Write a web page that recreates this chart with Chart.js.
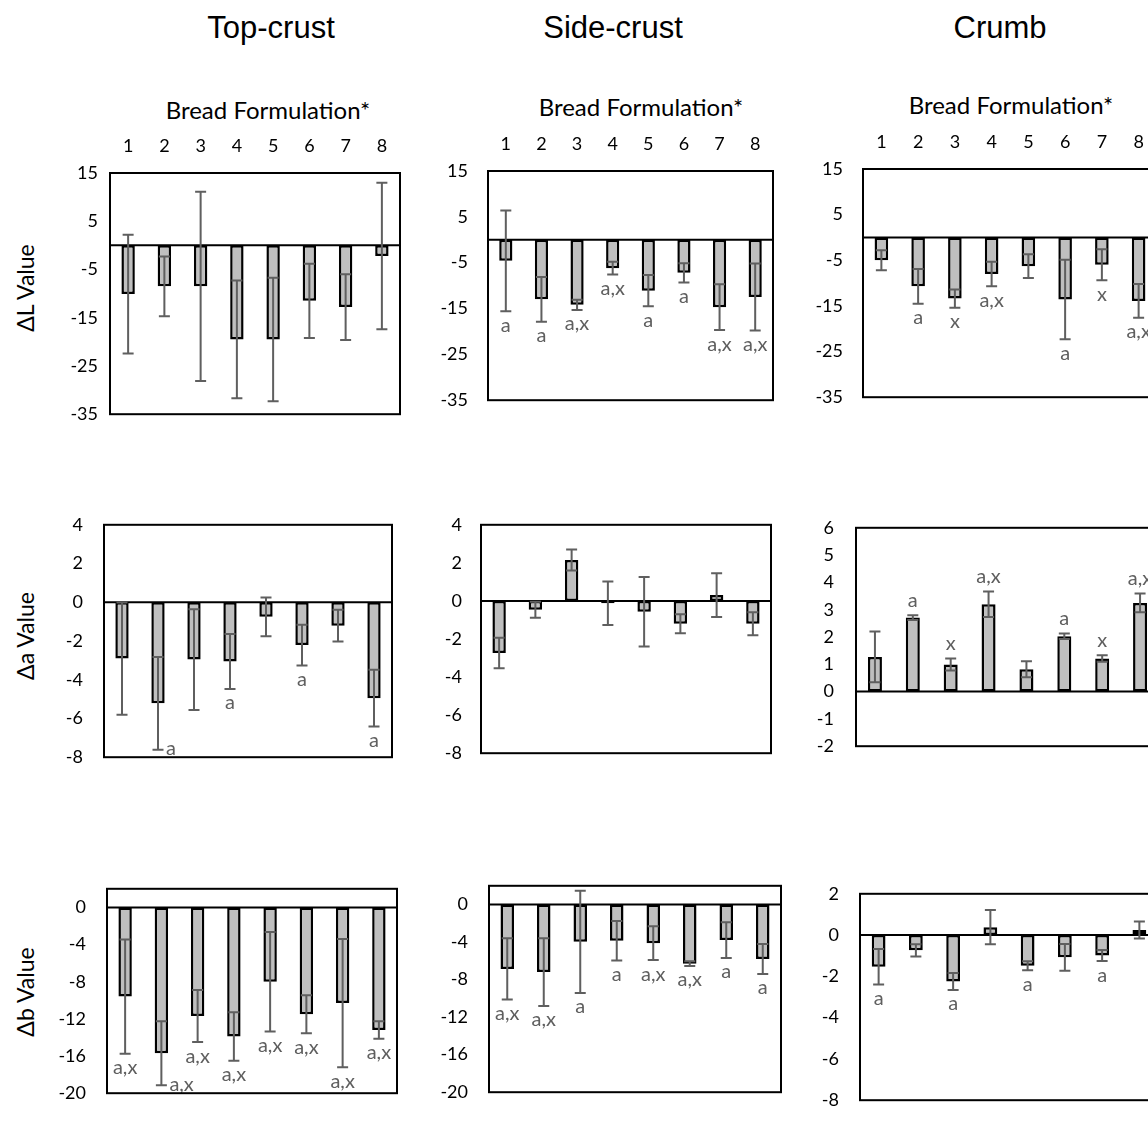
<!DOCTYPE html>
<html>
<head>
<meta charset="utf-8">
<script src="https://cdn.jsdelivr.net/npm/chart.js@4.4.1/dist/chart.umd.min.js"></script>
<style>
  html, body { margin: 0; padding: 0; width: 1148px; height: 1125px; overflow: hidden; background: #fff; }
  .txt { position: absolute; white-space: nowrap; transform: translate(-50%, -50%); color: #000; line-height: 1; }
  .col { font-family: "Liberation Sans", Arial, sans-serif; font-size: 31px; }
  .bf { font-family: Lato, "Open Sans", sans-serif; font-size: 24px; }
  .ytl { font-family: Lato, "Open Sans", sans-serif; font-size: 23px; transform: translate(-50%, -50%) rotate(-90deg); }
</style>
</head>
<body>
<div class="txt col" style="left:271px;top:27px">Top-crust</div>
<div class="txt col" style="left:613px;top:27px">Side-crust</div>
<div class="txt col" style="left:1000px;top:27px">Crumb</div>
<div class="txt bf" style="left:268px;top:110px">Bread Formulation*</div>
<div class="txt bf" style="left:641px;top:107px">Bread Formulation*</div>
<div class="txt bf" style="left:1011px;top:105px">Bread Formulation*</div>
<div class="txt ytl" style="left:25px;top:288px">ΔL Value</div>
<div class="txt ytl" style="left:25px;top:636px">Δa Value</div>
<div class="txt ytl" style="left:25px;top:992px">Δb Value</div>

<script>
const categories = ['1', '2', '3', '4', '5', '6', '7', '8'];

// ΔL
const topL = [-10.1, -8.5, -8.5, -19.5, -19.5, -11.5, -12.8, -2.2];
const topLsd = [12.3, 6.2, 19.6, 12.2, 12.8, 7.7, 6.8, 15.2];
const topLlab = ['', '', '', '', '', '', '', ''];
const sideL = [-4.6, -13.0, -14.2, -6.2, -11.1, -7.2, -14.7, -12.5];
const sideLsd = [11.0, 4.9, 1.1, 1.4, 3.4, 2.1, 5.0, 7.3];
const sideLlab = ['a', 'a', 'a,x', 'a,x', 'a', 'a', 'a,x', 'a,x'];
const crumbL = [-5.0, -10.7, -13.4, -8.0, -6.3, -13.6, -6.0, -13.9];
const crumbLsd = [2.2, 3.8, 2.0, 2.7, 2.6, 8.7, 3.4, 3.7];
const crumbLlab = ['', 'a', 'x', 'a,x', '', 'a', 'x', 'a,x'];

// Δa
const topA = [-2.91, -5.22, -2.96, -3.06, -0.75, -2.21, -1.21, -4.95];
const topAsd = [2.9, 2.4, 2.6, 1.42, 1.0, 1.05, 0.82, 1.47];
const topAlab = ['', 'a', '', 'a', '', 'a', '', 'a'];
const sideA = [-2.74, -0.46, 2.15, -0.12, -0.57, -1.2, 0.31, -1.2];
const sideAsd = [0.8, 0.42, 0.55, 1.14, 1.83, 0.5, 1.15, 0.6];
const sideAlab = ['', '', '', '', '', '', '', ''];
const crumbA = [1.27, 2.71, 0.99, 3.2, 0.82, 2.03, 1.21, 3.25];
const crumbAsd = [0.93, 0.09, 0.22, 0.47, 0.29, 0.1, 0.12, 0.34];
const crumbAlab = ['', 'a', 'x', 'a,x', '', 'a', 'x', 'a,x'];

// Δb
const topB = [-9.6, -15.7, -11.7, -13.9, -8.0, -11.5, -10.3, -13.2];
const topBsd = [6.15, 3.45, 2.8, 2.6, 5.35, 2.05, 6.9, 0.95];
const topBlab = ['a,x', 'a,x', 'a,x', 'a,x', 'a,x', 'a,x', 'a,x', 'a,x'];
const sideB = [-6.86, -7.2, -3.97, -3.85, -4.12, -6.3, -3.79, -5.8];
const sideBsd = [3.27, 3.6, 5.45, 2.1, 1.8, 0.25, 1.9, 1.6];
const sideBlab = ['a,x', 'a,x', 'a', 'a', 'a,x', 'a,x', 'a', 'a'];
const crumbB = [-1.53, -0.74, -2.25, 0.38, -1.49, -1.08, -0.99, 0.25];
const crumbBsd = [0.86, 0.3, 0.41, 0.83, 0.22, 0.65, 0.27, 0.41];
const crumbBlab = ['a', '', 'a', '', 'a', '', 'a', ''];

// tick labels
const lTicks = [15, 5, -5, -15, -25, -35];
const aTicks = [4, 2, 0, -2, -4, -6, -8];
const aTicksCrumb = [6, 5, 4, 3, 2, 1, 0, -1, -2];
const bTicks = [0, -4, -8, -12, -16, -20];
const bTicksCrumb = [2, 0, -2, -4, -6, -8];

// panel boxes: [left, top, right, bottom] of the framed plot area
const panels = [
  { vals: topL,   sd: topLsd,   labs: topLlab,   ticks: lTicks,      min: -35, max: 15, box: [110, 173, 400, 423], pad: 12, cats: true },
  { vals: sideL,  sd: sideLsd,  labs: sideLlab,  ticks: lTicks,      min: -35, max: 15, box: [488, 171, 773, 417], pad: 20, cats: true },
  { vals: crumbL, sd: crumbLsd, labs: crumbLlab, ticks: lTicks,      min: -35, max: 15, box: [863, 169, 1157, 414], pad: 20, cats: true },
  { vals: topA,   sd: topAsd,   labs: topAlab,   ticks: aTicks,      min: -8,  max: 4,  box: [104, 507, 392, 775], pad: 21 },
  { vals: sideA,  sd: sideAsd,  labs: sideAlab,  ticks: aTicks,      min: -8,  max: 4,  box: [481, 509, 771, 769], pad: 19 },
  { vals: crumbA, sd: crumbAsd, labs: crumbAlab, ticks: aTicksCrumb, min: -2,  max: 6,  box: [856, 509, 1159, 765], pad: 22 },
  { vals: topB,   sd: topBsd,   labs: topBlab,   ticks: bTicks,      min: -20, max: 2,  box: [107, 871, 397, 1111], pad: 21 },
  { vals: sideB,  sd: sideBsd,  labs: sideBlab,  ticks: bTicks,      min: -20, max: 2,  box: [489, 868, 781, 1110], pad: 21 },
  { vals: crumbB, sd: crumbBsd, labs: crumbBlab, ticks: bTicksCrumb, min: -8,  max: 2,  box: [860, 876, 1158, 1118], pad: 21 }
];

const PADL = 70, PADR = 12, PADB = 14;

const extras = {
  id: 'extras',
  afterDatasetsDraw(chart, args, opts) {
    const p = opts.panel;
    const { ctx, chartArea: ca } = chart;
    const y = chart.scales.y;
    const bars = chart.getDatasetMeta(0).data;
    ctx.save();

    // zero line
    const y0 = y.getPixelForValue(0);
    ctx.strokeStyle = '#000';
    ctx.lineWidth = 2;
    ctx.beginPath();
    ctx.moveTo(ca.left, y0);
    ctx.lineTo(ca.right, y0);
    ctx.stroke();

    // error bars
    ctx.strokeStyle = '#5f5f5f';
    ctx.lineWidth = 2;
    bars.forEach((bar, i) => {
      const hi = y.getPixelForValue(p.vals[i] + p.sd[i]);
      const lo = y.getPixelForValue(p.vals[i] - p.sd[i]);
      ctx.beginPath();
      ctx.moveTo(bar.x, hi); ctx.lineTo(bar.x, lo);
      ctx.moveTo(bar.x - 5.5, hi); ctx.lineTo(bar.x + 5.5, hi);
      ctx.moveTo(bar.x - 5.5, lo); ctx.lineTo(bar.x + 5.5, lo);
      ctx.stroke();
    });

    // letters
    ctx.fillStyle = '#5f5f5f';
    ctx.font = '20px Lato, "Open Sans", sans-serif';
    ctx.textBaseline = 'middle';
    bars.forEach((bar, i) => {
      const t = p.labs[i];
      if (!t) return;
      ctx.textAlign = 'center';
      if (p.vals[i] >= 0) {
        const hi = y.getPixelForValue(p.vals[i] + p.sd[i]);
        ctx.fillText(t, bar.x, hi - 15);
      } else {
        const lo = y.getPixelForValue(p.vals[i] - p.sd[i]);
        if (ca.bottom - lo < 10) {
          ctx.textAlign = 'left';
          ctx.fillText(t, bar.x + 8, lo - 1);
        } else {
          ctx.fillText(t, bar.x, Math.min(lo + 14, ca.bottom - 6));
        }
      }
    });

    // frame
    ctx.strokeStyle = '#000';
    ctx.lineWidth = 2;
    ctx.strokeRect(ca.left, ca.top, ca.width, ca.height);

    // formulation numbers above the frame
    if (p.cats) {
      ctx.fillStyle = '#000';
      ctx.font = '18px Lato, "Open Sans", sans-serif';
      ctx.textAlign = 'center';
      bars.forEach((bar, i) => ctx.fillText(categories[i], bar.x, ca.top - 27));
    }
    ctx.restore();
  }
};

panels.forEach(p => {
  const [l, t, r, b] = p.box;
  const padT = p.cats ? 45 : 14;
  const cv = document.createElement('canvas');
  cv.width = (r - l) + PADL + PADR;
  cv.height = (b - t) + padT + PADB;
  cv.style.position = 'absolute';
  cv.style.left = (l - PADL) + 'px';
  cv.style.top = (t - padT) + 'px';
  document.body.appendChild(cv);

  new Chart(cv, {
    type: 'bar',
    data: {
      labels: categories,
      datasets: [{
        data: p.vals,
        backgroundColor: '#bfbfbf',
        borderColor: '#000',
        borderWidth: 2.5,
        borderSkipped: false,
        categoryPercentage: 0.37,
        barPercentage: 1
      }]
    },
    options: {
      responsive: false,
      animation: false,
      events: [],
      layout: { padding: { left: 0, right: PADR, top: padT, bottom: PADB } },
      scales: {
        x: { display: false },
        y: {
          min: p.min,
          max: p.max,
          afterBuildTicks: s => { s.ticks = p.ticks.slice().sort((a, c) => a - c).map(v => ({ value: v })); },
          afterFit: s => { s.width = PADL; },
          grid: { display: false, drawTicks: false },
          border: { display: false },
          ticks: {
            color: '#000',
            padding: p.pad,
            font: { family: 'Lato, "Open Sans", sans-serif', size: 18 }
          }
        }
      },
      plugins: {
        legend: { display: false },
        tooltip: { enabled: false },
        extras: { panel: p }
      }
    },
    plugins: [extras]
  });
});
</script>
</body>
</html>
